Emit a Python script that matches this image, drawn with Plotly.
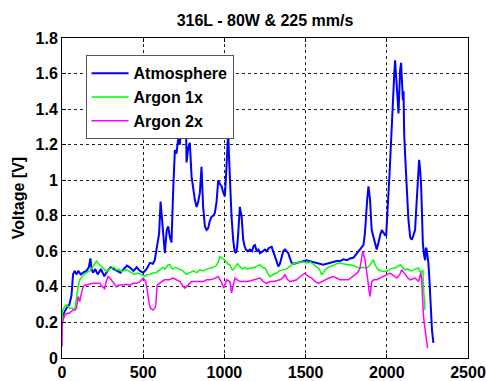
import plotly.graph_objects as go

# ---------------- data ----------------
x_atm = [0, 10, 27, 45, 58, 68, 78, 90, 100, 115, 130, 150, 165, 175, 182, 191, 205, 220, 240, 260,
         280, 300, 320, 340, 360, 380, 400, 417, 440, 460, 480, 500, 520, 541, 560, 571, 585, 598, 607, 613,
         623, 633, 645, 654, 664, 674, 685, 695, 705, 715, 725, 736, 746, 756, 762, 767, 777, 787, 798, 808,
         818, 829, 839, 849, 859, 869, 880, 890, 900, 910, 921, 931, 941, 952, 962, 972, 983, 993, 1003, 1013,
         1023, 1029, 1034, 1044, 1054, 1063, 1071, 1078, 1085, 1095, 1106, 1116, 1124, 1132, 1145, 1157, 1170, 1180, 1188, 1200,
         1210, 1219, 1235, 1250, 1260, 1275, 1291, 1300, 1311, 1322, 1332, 1342, 1352, 1362, 1373, 1383, 1393, 1404, 1414, 1430,
         1445, 1465, 1486, 1505, 1527, 1545, 1568, 1590, 1609, 1630, 1650, 1670, 1692, 1712, 1733, 1755, 1774, 1795, 1815, 1835,
         1856, 1865, 1872, 1880, 1887, 1892, 1897, 1902, 1907, 1918, 1928, 1938, 1946, 1954, 1962, 1969, 1980, 1990, 1996, 2004,
         2010, 2016, 2024, 2031, 2036, 2041, 2046, 2051, 2056, 2062, 2067, 2072, 2077, 2082, 2088, 2093, 2099, 2103, 2107, 2115,
         2123, 2133, 2144, 2154, 2164, 2174, 2182, 2189, 2194, 2199, 2205, 2211, 2217, 2222, 2229, 2236, 2241, 2246, 2251, 2256,
         2262, 2267, 2272, 2278, 2287]
v_atm = [0.22, 0.25, 0.28, 0.30, 0.35, 0.47, 0.49, 0.47, 0.49, 0.47, 0.48, 0.49, 0.51, 0.56, 0.50, 0.48, 0.50, 0.47, 0.50, 0.46,
         0.49, 0.51, 0.50, 0.49, 0.48, 0.50, 0.52, 0.51, 0.49, 0.51, 0.49, 0.48, 0.50, 0.535, 0.53, 0.55, 0.63, 0.70, 0.88, 0.80,
         0.665, 0.59, 0.72, 0.74, 0.68, 0.65, 0.95, 1.17, 1.15, 1.23, 1.20, 1.30, 1.32, 1.25, 1.40, 1.10, 1.18, 1.21, 1.02, 0.95,
         0.89, 0.85, 0.88, 0.93, 1.075, 0.85, 0.74, 0.72, 0.73, 0.77, 0.795, 0.80, 0.815, 0.88, 1.00, 0.98, 0.965, 0.93, 0.91, 1.075,
         1.28, 1.12, 0.98, 0.795, 0.665, 0.60, 0.59, 0.62, 0.70, 0.85, 0.795, 0.665, 0.63, 0.61, 0.60, 0.61, 0.60, 0.63, 0.635, 0.60,
         0.61, 0.59, 0.60, 0.61, 0.60, 0.62, 0.625, 0.60, 0.57, 0.53, 0.515, 0.53, 0.57, 0.60, 0.61, 0.60, 0.59, 0.56, 0.535, 0.53,
         0.535, 0.54, 0.545, 0.55, 0.545, 0.54, 0.535, 0.53, 0.525, 0.53, 0.535, 0.54, 0.545, 0.545, 0.555, 0.55, 0.56, 0.565, 0.59, 0.61,
         0.635, 0.70, 0.83, 0.90, 0.965, 0.92, 0.89, 0.80, 0.72, 0.68, 0.645, 0.61, 0.64, 0.68, 0.70, 0.72, 0.70, 0.69, 0.69, 0.795,
         0.92, 1.02, 1.20, 1.36, 1.45, 1.51, 1.60, 1.675, 1.58, 1.51, 1.45, 1.375, 1.50, 1.62, 1.66, 1.55, 1.45, 1.50, 1.26, 1.10,
         0.93, 0.78, 0.68, 0.665, 0.69, 0.72, 0.85, 0.98, 1.05, 1.115, 1.06, 0.98, 0.80, 0.645, 0.58, 0.55, 0.62, 0.61, 0.57, 0.535,
         0.45, 0.345, 0.25, 0.16, 0.085]

x_ar1 = [0, 5, 17, 30, 47, 65, 78, 89, 99, 109, 125, 150, 170, 191, 200, 212, 225, 243, 258, 274,
         290, 305, 320, 335, 350, 366, 380, 397, 410, 428, 445, 469, 490, 510, 520, 540, 561, 580, 602, 620,
         635, 654, 664, 680, 700, 726, 745, 765, 787, 810, 830, 849, 870, 890, 911, 930, 950, 963, 972, 985,
         1003, 1020, 1034, 1045, 1054, 1065, 1080, 1095, 1110, 1125, 1140, 1157, 1175, 1190, 1205, 1219, 1235, 1250, 1265, 1280,
         1300, 1322, 1340, 1363, 1380, 1404, 1420, 1445, 1465, 1485, 1507, 1530, 1550, 1568, 1585, 1599, 1610, 1625, 1650, 1670,
         1690, 1712, 1730, 1755, 1774, 1795, 1815, 1835, 1856, 1877, 1895, 1910, 1917, 1930, 1948, 1965, 1980, 2000, 2020, 2041,
         2060, 2082, 2098, 2113, 2130, 2150, 2164, 2180, 2195, 2209, 2222, 2226, 2230, 2235]
v_ar1 = [0.20, 0.27, 0.29, 0.30, 0.28, 0.28, 0.27, 0.345, 0.40, 0.44, 0.46, 0.48, 0.49, 0.515, 0.53, 0.545, 0.53, 0.515, 0.50, 0.487,
         0.50, 0.505, 0.51, 0.496, 0.50, 0.487, 0.49, 0.496, 0.49, 0.478, 0.47, 0.478, 0.47, 0.46, 0.468, 0.47, 0.478, 0.48, 0.496, 0.51,
         0.50, 0.524, 0.524, 0.50, 0.51, 0.496, 0.49, 0.47, 0.478, 0.49, 0.48, 0.496, 0.49, 0.50, 0.505, 0.51, 0.52, 0.54, 0.57, 0.56,
         0.55, 0.53, 0.524, 0.50, 0.496, 0.51, 0.53, 0.515, 0.50, 0.51, 0.50, 0.505, 0.51, 0.51, 0.52, 0.524, 0.51, 0.505, 0.48, 0.458,
         0.47, 0.478, 0.49, 0.496, 0.50, 0.515, 0.53, 0.534, 0.54, 0.54, 0.534, 0.54, 0.525, 0.515, 0.50, 0.468, 0.48, 0.50, 0.515, 0.52,
         0.53, 0.534, 0.53, 0.525, 0.524, 0.52, 0.51, 0.506, 0.51, 0.506, 0.52, 0.54, 0.552, 0.52, 0.496, 0.49, 0.49, 0.487, 0.50, 0.506,
         0.51, 0.524, 0.51, 0.496, 0.50, 0.49, 0.496, 0.50, 0.506, 0.478, 0.496, 0.40, 0.29, 0.27]

x_ar2 = [0, 2, 17, 30, 47, 58, 68, 80, 89, 99, 109, 120, 130, 140, 150, 165, 180, 191, 210, 232,
         250, 263, 272, 284, 295, 305, 320, 335, 350, 376, 395, 417, 440, 459, 480, 500, 510, 520, 530, 538,
         545, 561, 572, 578, 586, 600, 613, 630, 644, 660, 684, 705, 726, 740, 756, 775, 798, 820, 849, 870,
         890, 911, 935, 962, 980, 997, 1013, 1034, 1044, 1055, 1065, 1080, 1095, 1115, 1137, 1160, 1178, 1200, 1219, 1240,
         1260, 1280, 1301, 1320, 1342, 1360, 1373, 1390, 1404, 1425, 1445, 1470, 1496, 1515, 1537, 1560, 1578, 1600, 1619, 1645,
         1671, 1690, 1712, 1740, 1763, 1785, 1805, 1820, 1835, 1845, 1852, 1866, 1875, 1883, 1890, 1897, 1907, 1920, 1938, 1960,
         1979, 2000, 2020, 2040, 2062, 2080, 2092, 2105, 2113, 2130, 2144, 2160, 2174, 2185, 2195, 2209, 2215, 2220, 2226, 2236,
         2251]
v_ar2 = [0.065, 0.197, 0.243, 0.25, 0.253, 0.26, 0.27, 0.27, 0.28, 0.346, 0.318, 0.365, 0.40, 0.41, 0.41, 0.415, 0.42, 0.42, 0.42, 0.42,
         0.40, 0.39, 0.43, 0.458, 0.45, 0.44, 0.42, 0.40, 0.41, 0.41, 0.415, 0.41, 0.42, 0.42, 0.43, 0.45, 0.44, 0.41, 0.346, 0.30,
         0.28, 0.27, 0.28, 0.30, 0.41, 0.42, 0.43, 0.44, 0.44, 0.44, 0.45, 0.44, 0.43, 0.41, 0.393, 0.41, 0.43, 0.43, 0.43, 0.43,
         0.44, 0.44, 0.445, 0.458, 0.43, 0.393, 0.44, 0.43, 0.365, 0.42, 0.45, 0.44, 0.43, 0.43, 0.43, 0.435, 0.44, 0.445, 0.45, 0.43,
         0.42, 0.43, 0.43, 0.435, 0.44, 0.45, 0.468, 0.44, 0.43, 0.435, 0.44, 0.46, 0.477, 0.46, 0.45, 0.43, 0.42, 0.43, 0.44, 0.45,
         0.458, 0.45, 0.44, 0.44, 0.44, 0.455, 0.468, 0.48, 0.506, 0.55, 0.60, 0.552, 0.50, 0.44, 0.38, 0.346, 0.43, 0.44, 0.44, 0.45,
         0.458, 0.47, 0.478, 0.465, 0.45, 0.47, 0.496, 0.48, 0.468, 0.45, 0.44, 0.445, 0.45, 0.44, 0.43, 0.477, 0.44, 0.34, 0.233, 0.159,
         0.056]

series_names = ["Atmosphere", "Argon 1x", "Argon 2x"]
series_colors = ["#0000FF", "#00FF00", "#FF00FF"]
series_widths = [2, 1.5, 1.5]

x_ticks = [0, 500, 1000, 1500, 2000, 2500]
y_ticks = [0, 0.2, 0.4, 0.6, 0.8, 1, 1.2, 1.4, 1.6, 1.8]
y_tick_labels = ["0", "0.2", "0.4", "0.6", "0.8", "1", "1.2", "1.4", "1.6", "1.8"]

title_text = "316L - 80W & 225 mm/s"
y_title = "Voltage [V]"

# ---------------- figure ----------------
FONT = "Liberation Sans, Arial, sans-serif"
fig = go.Figure()
for xs, ys, name, col, w in zip([x_atm, x_ar1, x_ar2], [v_atm, v_ar1, v_ar2],
                                series_names, series_colors, series_widths):
    fig.add_trace(go.Scatter(x=xs, y=ys, mode="lines", name=name,
                             line=dict(color=col, width=w)))

axis_common = dict(
    showline=True, linecolor="black", linewidth=1, mirror="all",
    ticks="inside", ticklen=4, tickcolor="black", tickwidth=1,
    showgrid=True, gridcolor="#222222", gridwidth=1, griddash="3px,3px",
    zeroline=False, automargin=False,
    tickfont=dict(family=FONT, size=16, color="black", weight="bold"),
)

fig.update_xaxes(range=[0, 2500], tickvals=x_ticks, **axis_common)
fig.update_yaxes(range=[0, 1.8], tickvals=y_ticks, ticktext=y_tick_labels,
                 title=dict(text=y_title, standoff=6,
                            font=dict(family=FONT, size=16, color="black", weight="bold")),
                 **axis_common)

fig.update_layout(
    width=487, height=381,
    margin=dict(l=62, r=19, t=38, b=23, autoexpand=False),
    paper_bgcolor="white", plot_bgcolor="white",
    title=dict(text=title_text, x=(62 + 468) / 2 / 487, xanchor="center",
               y=1 - 20 / 381, yanchor="middle",
               font=dict(family=FONT, size=16, color="black", weight="bold")),
    legend=dict(x=0.058, y=0.946, xanchor="left", yanchor="top",
                bgcolor="white", bordercolor="#555555", borderwidth=1,
                font=dict(family=FONT, size=16, color="black", weight="bold"),
                tracegroupgap=0, itemwidth=37),
    showlegend=True,
)

fig.write_html("out.html")
